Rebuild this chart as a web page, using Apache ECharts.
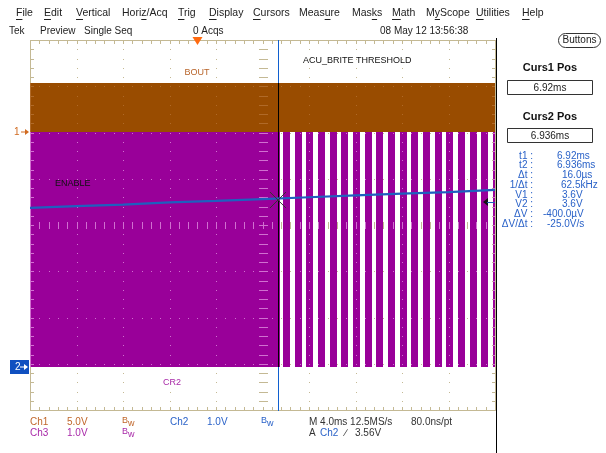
<!DOCTYPE html>
<html><head><meta charset="utf-8">
<script src="https://cdn.jsdelivr.net/npm/echarts@6/dist/echarts.min.js"></script>
<style>html,body{margin:0;padding:0;background:#fff}#c{width:606px;height:453px}</style>
</head><body><div id="c"></div>
<script>
// ---------------- data ----------------
const menuItems = ['File','Edit','Vertical','Horiz/Acq','Trig','Display','Cursors','Measure','Masks','Math','MyScope','Utilities','Help'];
const menuUnderline = [0,0,0,4,0,0,0,4,3,0,1,0,0];
const statusTexts = ['Tek','Preview','Single Seq','0 Acqs','08 May 12 13:56:38'];

const timeRange = [-14.41, 25.59];      // ms, 4.0 ms/div, 10 div
const triggerTime = 0;
const cursorTimes = [6.92, 6.936];
const cursorVolt = 3.6;
const trigLevel = 3.56;

const ch1 = {label:'BOUT',   vdiv:5, offset:2.01};
const ch2 = {label:'ENABLE', vdiv:1, offset:-3.06};
const ch3 = {label:'CR2',    vdiv:1, offset:-3.06};

// BOUT (Ch1): dense switching, envelope 0 .. 5.3 V
const boutSpan = [-14.41, 25.59];
const boutLevels = [0, 5.3];
// CR2 (Ch3): dense switching until ~7.1 ms, then PWM ~1 kHz
const cr2DenseSpan = [-14.41, 7.10];
const cr2Levels = [0, 5.08];
const cr2Gaps = [[7.10,7.38],[7.96,8.36],[8.96,9.36],[9.96,10.37],[10.97,11.37],[11.97,12.37],
  [12.97,13.38],[13.97,14.38],[14.98,15.38],[15.98,16.38],[16.98,17.39],[17.98,18.39],
  [18.99,19.39],[19.99,20.39],[20.99,21.40],[21.99,22.40],[23.00,23.40],[24.00,24.41],[25.00,25.41]];
// ENABLE (Ch2)
const enableT = [-14.41,-10.41,-6.41,-2.41,1.59,5.59,9.59,13.59,17.59,21.59,25.59];
const enableV = [3.43,3.47,3.50,3.55,3.58,3.62,3.66,3.70,3.74,3.77,3.82];

const readLabels = ['t1 :','t2 :','\u0394t :','1/\u0394t :','V1 :','V2 :','\u0394V :','\u0394V/\u0394t :'];
const readValues = ['6.92ms','6.936ms','16.0\u00b5s','62.5kHz','3.6V','3.6V','-400.0\u00b5V','-25.0V/s'];

// ---------------- helpers ----------------
const FONT = '"Liberation Sans", Arial, sans-serif';
const TAN = '#c4b994', BROWN = '#994c00', PURPLE = '#990099', BLUE = '#1f5fbf', TXTBLUE = '#2a62c8';
const toDiv = (v, ch) => v / ch.vdiv + ch.offset;
const mc = document.createElement('canvas').getContext('2d');
function tw(s, size, bold){ mc.font = (bold?'bold ':'') + size + 'px ' + FONT; return mc.measureText(s).width; }

const g = [];
function T(text, x, y, o){ o = o||{}; g.push({type:'text', x:x, y:y, z:o.z||20, silent:true,
  style:{text:text, fill:o.color||'#222', font:(o.bold?'bold ':'')+(o.size||10)+'px '+FONT,
  align:o.align||'left', verticalAlign:'middle'}}); }
function R(x,y,w,h,o){ o=o||{}; g.push({type:'rect', z:o.z||20, silent:true, shape:{x:x,y:y,width:w,height:h,r:o.r||0},
  style:{fill:o.fill||'none', stroke:o.stroke||null, lineWidth:o.lw||1}}); }
function P(points, fill){ g.push({type:'polygon', z:20, silent:true, shape:{points:points}, style:{fill:fill}}); }

// menu bar
const menuX = [16,44,76,122,178,209,253,299,352,392,426,476,522];
menuItems.forEach((m,i)=>{
  T(m, menuX[i], 13, {size:10.5});
  const k = menuUnderline[i];
  R(menuX[i] + tw(m.slice(0,k),10.5), 19, Math.max(1,tw(m[k],10.5)), 1, {fill:'#222'});
});
const statusX = [9,40,84,193,380];
statusTexts.forEach((s,i)=>T(s, statusX[i], 31, {size:10}));

// right panel
R(496, 38, 1, 415, {fill:'#000'});
R(558.5, 33.5, 42, 14, {fill:'#fff', stroke:'#333', r:7});
T('Buttons', 579.5, 40.5, {align:'center', size:10});
T('Curs1 Pos', 550, 68, {align:'center', size:11, bold:true, color:'#111'});
R(507.5, 80.5, 85, 14, {stroke:'#333', fill:'#fff'});
T('6.92ms', 550, 88, {align:'center', size:10});
T('Curs2 Pos', 550, 117, {align:'center', size:11, bold:true, color:'#111'});
R(507.5, 128.5, 85, 14, {stroke:'#333', fill:'#fff'});
T('6.936ms', 550, 136, {align:'center', size:10});
const valX = [557,557,562,561,562,562,543,547];
readLabels.forEach((l,i)=>{
  const y = 156 + i*9.7;
  T(l, 533, y, {align:'right', color:TXTBLUE, size:10});
  T(readValues[i], valX[i], y, {color:TXTBLUE, size:10});
});

// bottom readouts
const C1T = '#c0662a', C3T = '#a828a8';
function Bw(x,y,c){ T('B', x, y-1, {color:c, size:9}); T('w', x+6, y+2, {color:c, size:9}); }
T('Ch1', 30, 422, {color:C1T}); T('5.0V', 67, 422, {color:C1T}); Bw(122,422,C1T);
T('Ch2', 170, 422, {color:TXTBLUE}); T('1.0V', 207, 422, {color:TXTBLUE}); Bw(261,422,TXTBLUE);
T('M 4.0ms 12.5MS/s', 309, 422, {color:'#333'}); T('80.0ns/pt', 411, 422, {color:'#333'});
T('Ch3', 30, 433, {color:C3T}); T('1.0V', 67, 433, {color:C3T}); Bw(122,433,C3T);
T('A', 309, 433, {color:'#333'}); T('Ch2', 320, 433, {color:TXTBLUE});
T('\u2215', 345, 433, {color:'#333'}); T('3.56V', 355, 433, {color:'#333'});

// in-plot labels
T(ch1.label, 197, 73, {align:'center', size:9, color:'#b8642a'});
T('ACU_BRITE THRESHOLD', 303, 61, {size:9, color:'#111'});
T(ch2.label, 55, 184, {size:9, color:'#111'});
T(ch3.label, 163, 383, {size:9, color:C3T});

// channel markers (left)
T('1', 14, 132, {size:10, color:'#d06a20'});
R(21, 131.5, 5, 1, {fill:'#d06a20'}); P([[25,129],[29,132],[25,135]], '#d06a20');
R(10, 360, 19, 14, {fill:'#1050c0'});
T('2', 15, 367, {size:10, color:'#fff'});
R(20, 366.5, 5, 1, {fill:'#fff'}); P([[24,364],[28,367],[24,370]], '#fff');

// ---------------- graticule template ----------------
function buildGrat(x0,y0,w,h){
  const out=[], nx=10, ny=8, sub=5, dx=w/nx/sub, dy=h/ny/sub;
  const X=i=>Math.round(x0+i*dx), Y=j=>Math.round(y0+j*dy);
  const xl=Math.round(x0), yt=Math.round(y0), xr=Math.round(x0+w), yb=Math.round(y0+h);
  out.push([xl,yt,xr-xl+1,1],[xl,yb,xr-xl+1,1],[xl,yt,1,yb-yt+1],[xr,yt,1,yb-yt+1]);
  for(let i=1;i<nx*sub;i++){ out.push([X(i),yt,1,4],[X(i),yb-3,1,4]); }
  for(let j=1;j<ny*sub;j++){ out.push([xl,Y(j),4,1],[xr-3,Y(j),4,1]); }
  for(let c=1;c<nx;c++){ if(c===nx/2) continue; for(let j=1;j<ny*sub;j++) out.push([X(c*sub),Y(j),1,1]); }
  for(let r=1;r<ny;r++){ if(r===ny/2) continue; for(let i=1;i<nx*sub;i++) out.push([X(i),Y(r*sub),1,1]); }
  const cx=X(nx*sub/2), cy=Y(ny*sub/2);
  for(let j=1;j<ny*sub;j++) out.push([cx-4,Y(j),9,1]);
  for(let i=1;i<nx*sub;i++) out.push([X(i),cy-3,1,7]);
  return out;
}
let TPL=null;
function gratChildren(cs, color, clip){
  if(!TPL) TPL = buildGrat(cs.x, cs.y, cs.width, cs.height);
  const out=[];
  for(const r of TPL){
    let x=r[0], y=r[1], w=r[2], h=r[3];
    if(clip){
      const x2=Math.min(x+w, clip.x+clip.w), y2=Math.min(y+h, clip.y+clip.h);
      x=Math.max(x,clip.x); y=Math.max(y,clip.y); w=x2-x; h=y2-y;
      if(w<=0||h<=0) continue;
    }
    out.push({type:'rect', shape:{x:x,y:y,width:w,height:h}, style:{fill:color}});
  }
  return out;
}

// ---------------- band rows ----------------
const bandColors = [BROWN, PURPLE];
const overlayColors = ['#b06a28', '#d070d0'];
const bandRows = [];
bandRows.push([boutSpan[0], boutSpan[1], toDiv(boutLevels[0],ch1), toDiv(boutLevels[1],ch1), 0]);
bandRows.push([cr2DenseSpan[0], cr2DenseSpan[1], toDiv(cr2Levels[0],ch3), toDiv(cr2Levels[1],ch3), 1]);
for(let k=0;k<cr2Gaps.length;k++){
  const s = cr2Gaps[k][1], e = k+1<cr2Gaps.length ? cr2Gaps[k+1][0] : timeRange[1];
  bandRows.push([s, e, toDiv(cr2Levels[0],ch3), toDiv(cr2Levels[1],ch3), 1]);
}
const enableData = enableT.map((t,i)=>[t, toDiv(enableV[i], ch2)]);

const chart = echarts.init(document.getElementById('c'));
chart.setOption({
  animation:false,
  backgroundColor:'#fff',
  grid:{left:30, top:40, width:465, height:370},
  xAxis:[{type:'value', min:0, max:10, show:false},
         {type:'value', min:timeRange[0], max:timeRange[1], show:false}],
  yAxis:[{type:'value', min:-4, max:4, show:false}],
  graphic:{elements:g},
  series:[
    {type:'custom', xAxisIndex:0, yAxisIndex:0, z:1, silent:true, data:[[0,0]],
     renderItem:(p,api)=>({type:'group', children:gratChildren(p.coordSys, TAN, null)})},
    {type:'custom', xAxisIndex:1, yAxisIndex:0, z:2, silent:true, data:bandRows,
     renderItem:(p,api)=>{
       const a=api.coord([api.value(0), api.value(3)]), b=api.coord([api.value(1), api.value(2)]);
       const ci=api.value(4);
       const x=Math.round(a[0]), y=Math.round(a[1]), w=Math.round(b[0])-x, h=Math.round(b[1])-y;
       const ch=[{type:'rect', shape:{x:x,y:y,width:w,height:h}, style:{fill:bandColors[ci]}}];
       return {type:'group', children:ch.concat(gratChildren(p.coordSys, overlayColors[ci], {x:x,y:y,w:w,h:h}))};
     }},
    {type:'custom', xAxisIndex:1, yAxisIndex:0, z:3, silent:true, data:cursorTimes.map((t,i)=>[t,i]),
     renderItem:(p,api)=>{
       const cs=p.coordSys, i=api.value(1);
       const x=Math.round(api.coord([api.value(0),0])[0]);
       if(i===0) return {type:'rect', shape:{x:x,y:cs.y,width:1,height:cs.height+1}, style:{fill:'#1060d0'}};
       const yt=Math.round(api.coord([0,toDiv(boutLevels[1],ch1)])[1]);
       const yb=Math.round(api.coord([0,toDiv(cr2Levels[0],ch3)])[1]);
       return {type:'rect', shape:{x:x,y:yt,width:1,height:yb-yt}, style:{fill:'#000'}};
     }},
    {type:'line', xAxisIndex:1, yAxisIndex:0, z:4, silent:true, data:enableData, symbol:'none',
     lineStyle:{color:BLUE, width:2.2}},
    {type:'custom', xAxisIndex:1, yAxisIndex:0, z:5, silent:true, data:[[cursorTimes[0], toDiv(cursorVolt,ch2)]],
     renderItem:(p,api)=>{
       const c=api.coord([api.value(0), api.value(1)]);
       const cs=p.coordSys;
       const tx=api.coord([triggerTime,0])[0];
       const ty=api.coord([timeRange[1], toDiv(trigLevel,ch2)])[1];
       const xr=cs.x+cs.width;
       return {type:'group', children:[
         {type:'line', shape:{x1:c[0]-8,y1:c[1]-8,x2:c[0]+8,y2:c[1]+8}, style:{stroke:'#333',lineWidth:1}},
         {type:'line', shape:{x1:c[0]-8,y1:c[1]+8,x2:c[0]+8,y2:c[1]-8}, style:{stroke:'#333',lineWidth:1}},
         {type:'polygon', shape:{points:[[tx-5,37],[tx+5,37],[tx,45]]}, style:{fill:'#ff6a10'}},
         {type:'polygon', shape:{points:[[xr-12,ty],[xr-7,ty-4],[xr-7,ty+4]]}, style:{fill:'#111'}},
         {type:'rect', shape:{x:xr-8,y:Math.round(ty),width:8,height:1}, style:{fill:'#1f5fbf'}}
       ]};
     }}
  ]
});
</script></body></html>
